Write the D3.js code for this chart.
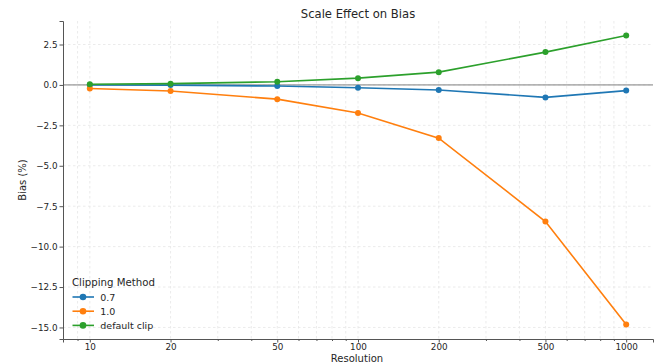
<!DOCTYPE html>
<html>
<head>
<meta charset="utf-8">
<script src="https://cdn.jsdelivr.net/npm/d3@7"></script>
<style>
  body { margin: 0; background: #fff; }
  text { font-family: "DejaVu Sans", sans-serif; fill: #262626; }
</style>
</head>
<body>
<svg id="chart"></svg>
<script>
var width = 654,
    height = 364,
    margin = {top: 21, right: 1, bottom: 25, left: 63};

// data
var resolutions = [10, 20, 50, 100, 200, 500, 1000];
var clip07 = [0.0, -0.01, -0.07, -0.17, -0.31, -0.77, -0.35];
var clip10 = [-0.22, -0.38, -0.88, -1.74, -3.29, -8.45, -14.82];
var defaultClip = [0.04, 0.08, 0.2, 0.42, 0.79, 2.03, 3.06];
var seriesNames = ["0.7", "1.0", "default clip"];
var colors = ["#1f77b4", "#ff7f0e", "#2ca02c"];
var yTicks = [2.5, 0, -2.5, -5, -7.5, -10, -12.5, -15];
var xMinor = [9, 30, 40, 60, 70, 80, 90, 300, 400, 600, 700, 800, 900];

var series = [clip07, clip10, defaultClip].map(function(vals, i) {
  return {name: seriesNames[i], color: colors[i],
    values: vals.map(function(v, j) { return {x: resolutions[j], y: v}; })};
});

var svg = d3.select("#chart").attr("width", width).attr("height", height);
var iw = width - margin.left - margin.right,
    ih = height - margin.top - margin.bottom;
var g = svg.append("g").attr("transform", "translate(" + margin.left + "," + margin.top + ")");

var lx = Math.log10(10), hx = Math.log10(1000), pad = (hx - lx) * 0.05;
var x = d3.scaleLog().domain([Math.pow(10, lx - pad), Math.pow(10, hx + pad)]).range([0, iw]);

var allY = [].concat(clip07, clip10, defaultClip);
var ymin = d3.min(allY), ymax = d3.max(allY), ypad = (ymax - ymin) * 0.05;
var y = d3.scaleLinear().domain([ymin - ypad, ymax + ypad]).range([ih, 0]);

// grid
var grid = g.append("g").attr("stroke", "#e6e6e6").attr("stroke-width", 0.8).attr("stroke-dasharray", "2.5,2.5");
grid.selectAll(".gy").data(yTicks).enter().append("line")
  .attr("x1", 0).attr("x2", iw).attr("y1", function(d) { return y(d); }).attr("y2", function(d) { return y(d); });
grid.selectAll(".gx").data(resolutions.concat(xMinor)).enter().append("line")
  .attr("y1", 0).attr("y2", ih).attr("x1", function(d) { return x(d); }).attr("x2", function(d) { return x(d); });

// zero line
g.append("line").attr("x1", 0).attr("x2", iw).attr("y1", y(0)).attr("y2", y(0))
  .attr("stroke", "#7f7f7f").attr("stroke-width", 1);

// axes
var xAxis = g.append("g").attr("transform", "translate(0," + ih + ")")
  .call(d3.axisBottom(x).tickValues(resolutions).tickFormat(d3.format("d")).tickSize(3.5).tickPadding(1.5));
var xMinorAxis = g.append("g").attr("transform", "translate(0," + ih + ")")
  .call(d3.axisBottom(x).tickValues(xMinor).tickFormat("").tickSize(2));
xMinorAxis.select(".domain").remove();
var yAxis = g.append("g")
  .call(d3.axisLeft(y).tickValues(yTicks).tickFormat(function(d) { return d3.format(".1f")(d).replace("-", "\u2212"); }).tickSize(3.5).tickPadding(2));

[xAxis, xMinorAxis, yAxis].forEach(function(a) {
  a.selectAll(".domain").attr("stroke", "#555").attr("stroke-width", 1);
  a.selectAll(".tick line").attr("stroke", "#555");
  a.selectAll("text").attr("font-size", 8.8).style("fill", "#262626");
});

// lines
var line = d3.line().x(function(d) { return x(d.x); }).y(function(d) { return y(d.y); });
var sg = g.selectAll(".series").data(series).enter().append("g");
sg.append("path").attr("d", function(d) { return line(d.values); })
  .attr("fill", "none").attr("stroke", function(d) { return d.color; }).attr("stroke-width", 1.6);
sg.selectAll("circle").data(function(d) { return d.values.map(function(v) { return {v: v, c: d.color}; }); })
  .enter().append("circle")
  .attr("cx", function(d) { return x(d.v.x); }).attr("cy", function(d) { return y(d.v.y); })
  .attr("r", 3).attr("fill", function(d) { return d.c; });

// titles
svg.append("text").attr("x", 358).attr("y", 17.5).attr("text-anchor", "middle")
  .attr("font-size", 11.6).text("Scale Effect on Bias");
svg.append("text").attr("x", 357).attr("y", 361.5).attr("text-anchor", "middle")
  .attr("font-size", 10).text("Resolution");
svg.append("text").attr("transform", "translate(26," + (margin.top + ih / 2) + ") rotate(-90)")
  .attr("text-anchor", "middle").attr("font-size", 10).text("Bias (%)");

// legend
var leg = svg.append("g").attr("transform", "translate(72,0)");
leg.append("text").attr("x", 0).attr("y", 286).attr("font-size", 10.2).text("Clipping Method");
var li = leg.selectAll(".li").data(series).enter().append("g")
  .attr("transform", function(d, i) { return "translate(0," + (297 + i * 14.2) + ")"; });
li.append("line").attr("x1", 0.5).attr("x2", 22).attr("stroke", function(d) { return d.color; }).attr("stroke-width", 1.6);
li.append("circle").attr("cx", 11).attr("r", 3.3).attr("fill", function(d) { return d.color; });
li.append("text").attr("x", 28.3).attr("y", 3.5).attr("font-size", 9.5).text(function(d) { return d.name; });
</script>
</body>
</html>
